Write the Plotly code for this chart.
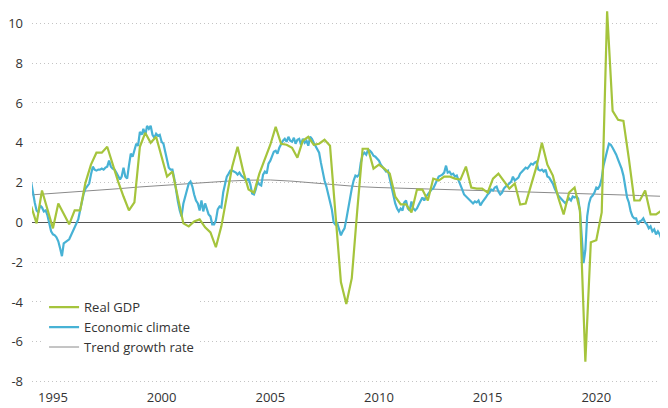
import pandas as pd
import plotly.graph_objects as go

# Real GDP, quarterly, y/y %, from 1994 Q1
gdp = [
    0.8, -0.05, 1.6, 0.7, -0.3, 0.95, 0.45, -0.1, 0.6, 0.6,
    2.0, 2.9, 3.5, 3.5, 3.8, 2.9, 2.05, 1.3, 0.6, 1.0,
    3.8, 4.5, 4.0, 4.3, 3.3, 2.3, 2.55, 1.2, -0.05, -0.2,
    0.05, 0.15, -0.25, -0.5, -1.25, -0.2, 1.3, 2.8, 3.8, 2.6,
    1.65, 1.5, 2.45, 3.15, 3.9, 4.8, 3.95, 3.9, 3.75, 3.25,
    4.1, 4.3, 3.9, 3.95, 4.15, 3.85, 0.6, -3.0, -4.1, -2.8,
    0.6, 3.7, 3.7, 2.7, 2.9, 2.7, 2.45, 1.3, 0.9, 0.9,
    0.5, 1.65, 1.65, 1.1, 2.2, 2.1, 2.3, 2.3, 2.2, 2.15,
    2.8, 1.75, 1.7, 1.7, 1.5, 2.2, 2.45, 2.1, 1.7, 1.95,
    0.9, 0.95, 1.9, 2.8, 4.0, 2.9, 2.35, 1.25, 0.4, 1.5,
    1.75, 0.6, -7.0, -1.0, -0.9, 0.5, 10.6, 5.6, 5.15, 5.1,
    3.2, 1.1, 1.1, 1.6, 0.4, 0.4, 0.6,
]

# Economic climate, monthly, from January 1994
climate = [
    2.0, 1.4, 1.0, 0.6, 0.5, 0.85, 0.75, 0.55, 0.6, 0.35,
    0.0, -0.45, -0.6, -0.65, -0.75, -0.95, -1.3, -1.7, -1.05, -0.97,
    -0.9, -0.85, -0.65, -0.45, -0.3, -0.1, 0.15, 0.6, 1.1, 1.45,
    1.7, 1.8, 1.95, 2.4, 2.8, 2.65, 2.6, 2.65, 2.65, 2.7,
    2.65, 2.75, 2.8, 3.1, 2.8, 2.7, 2.65, 2.5, 2.3, 2.15,
    2.3, 2.75, 2.3, 2.2, 2.85, 3.45, 3.3, 3.7, 3.95, 3.85,
    4.55, 4.4, 4.7, 4.35, 4.85, 4.7, 4.85, 4.4, 4.25, 4.45,
    4.35, 4.4, 4.05, 3.95, 3.6, 3.2, 2.75, 2.65, 2.65, 2.2,
    1.5, 1.05, 0.6, 0.3, 0.95, 1.3, 1.6, 1.95, 2.05, 1.8,
    1.4, 1.1, 0.95, 0.6, 1.1, 0.55, 0.95, 0.6, 0.4, 0.3,
    -0.1, -0.1, 0.1, 0.65, 0.8, 0.75, 1.5, 1.9, 2.3, 2.45,
    2.6, 2.6, 2.55, 2.5, 2.4, 2.5, 2.35, 2.25, 2.15, 2.1,
    2.2, 1.9, 1.45, 1.4, 1.65, 2.05, 1.9, 1.85, 2.4, 2.55,
    2.45, 2.95, 3.1, 3.3, 3.55, 3.6, 3.45, 3.75, 3.95, 4.1,
    4.2, 4.05, 4.3, 4.1, 4.05, 4.25, 3.95, 4.15, 4.2, 3.9,
    4.2, 4.0, 4.1, 3.85, 4.3, 4.2, 4.0, 3.85, 3.7, 3.5,
    3.0, 2.5, 2.1, 1.8, 1.45, 1.05, 0.65, 0.0, -0.12, -0.05,
    -0.35, -0.65, -0.45, -0.3, 0.15, 0.7, 1.2, 1.7, 2.1, 2.35,
    2.3, 2.4,
    3.0, 3.4, 3.5, 3.4, 3.65, 3.6, 3.5, 3.35, 3.3, 3.2,
    3.1, 2.9, 2.8, 2.65, 2.55, 2.6, 2.2, 1.8, 1.3, 0.95,
    0.7, 0.55, 0.7, 0.6, 1.0, 1.1, 0.7, 0.6, 1.05, 0.7,
    0.6, 0.7, 0.9, 1.05, 1.25, 1.1, 1.3, 1.4, 1.55, 1.65,
    1.7, 1.9, 2.15, 2.3, 2.35, 2.4, 2.5, 2.85, 2.5, 2.55,
    2.4, 2.45, 2.3, 2.35, 2.1, 1.9, 1.65, 1.4, 1.3, 1.2,
    1.1, 1.05, 0.95, 1.05, 1.0, 1.1, 0.85, 1.0, 1.1, 1.25,
    1.4, 1.5, 1.65, 1.6, 1.75, 1.8, 1.55, 1.4, 1.5, 1.7,
    1.8, 1.9, 1.95, 2.05, 2.3, 2.1, 2.2, 2.25, 2.45, 2.55,
    2.7, 2.75, 2.7, 2.85, 2.95, 2.9, 3.0, 3.05, 2.65, 2.6,
    2.65, 2.55, 2.65, 2.3, 2.25, 2.1, 1.95, 1.7, 1.5, 1.35,
    1.25, 1.15, 1.05, 0.95, 1.1, 1.2, 1.1, 1.3, 1.25, 1.3,
    1.2, 0.6, -0.7, -2.05, -1.4, 0.3, 0.95, 1.25, 1.35, 1.5,
    1.75, 1.7, 1.85, 2.2, 2.85, 3.3, 3.6, 3.95, 3.9, 3.75,
    3.6, 3.4, 3.15, 2.95, 2.7, 2.35, 1.85, 1.25, 1.0, 0.55,
    0.3, 0.2, 0.2, -0.1, 0.05, 0.1, 0.2, 0.0, -0.1, -0.3,
    -0.2, -0.45, -0.35, -0.6, -0.45, -0.6, -0.85, -1.0, -0.9, -0.75,
    -0.6, -0.5,
]

# Trend growth rate
trend_dates = [f"{y}-01-01" for y in range(1994, 2024)] + ["2023-04-15"]
trend = [
    1.38, 1.45, 1.52, 1.6, 1.69, 1.78, 1.86, 1.93, 2.0, 2.07,
    2.12, 2.13, 2.07, 1.97, 1.87, 1.8, 1.75, 1.71, 1.68, 1.65,
    1.62, 1.59, 1.56, 1.53, 1.5, 1.47, 1.43, 1.39, 1.35, 1.31,
    1.29,
]

tick_years = [1995, 2000, 2005, 2010, 2015, 2020]
y_ticks = [-8, -6, -4, -2, 0, 2, 4, 6, 8, 10]

gdp_dates = pd.date_range("1994-01-01", periods=len(gdp), freq="QS")
climate_dates = pd.date_range("1994-01-01", periods=len(climate), freq="MS")

GREEN = "#a5c43c"
CYAN = "#47b2d5"
GREY = "#8a8a8a"

fig = go.Figure()
fig.add_trace(go.Scatter(x=trend_dates, y=trend, mode="lines", name="Trend growth rate",
                         line=dict(color=GREY, width=1), legendrank=3))
fig.add_trace(go.Scatter(x=climate_dates, y=climate, mode="lines", name="Economic climate",
                         line=dict(color=CYAN, width=2.2), legendrank=2))
fig.add_trace(go.Scatter(x=gdp_dates, y=gdp, mode="lines", name="Real GDP",
                         line=dict(color=GREEN, width=2.2), legendrank=1))

# page body has an 8px margin, so the figure is 8px smaller than the window
fig.update_layout(
    width=660, height=400,
    margin=dict(l=22, r=0, t=0, b=24),
    plot_bgcolor="white", paper_bgcolor="white",
    font=dict(family="Open Sans", size=13, color="#333333"),
    showlegend=True,
    legend=dict(x=0.019, y=0.244, xanchor="left", yanchor="top",
                bgcolor="white", borderwidth=0, itemwidth=30,
                font=dict(size=13, color="#333333"), tracegroupgap=0),
)
fig.update_xaxes(
    type="date", range=["1994-01-14", "2023-04-20"],
    tickvals=[f"{y}-01-01" for y in tick_years], ticktext=[str(y) for y in tick_years],
    showgrid=False, zeroline=False, showline=False, ticks="", ticklabelstandoff=4,
)
fig.update_yaxes(
    range=[-8.12, 10.77], tickvals=y_ticks, ticktext=[str(v) for v in y_ticks],
    showgrid=True, gridcolor="#c4c4c4", gridwidth=1, griddash="1px,3px",
    zeroline=True, zerolinecolor="#555555", zerolinewidth=1,
    showline=False, ticks="", ticklabelstandoff=8,
)

fig.write_html("out.html")
